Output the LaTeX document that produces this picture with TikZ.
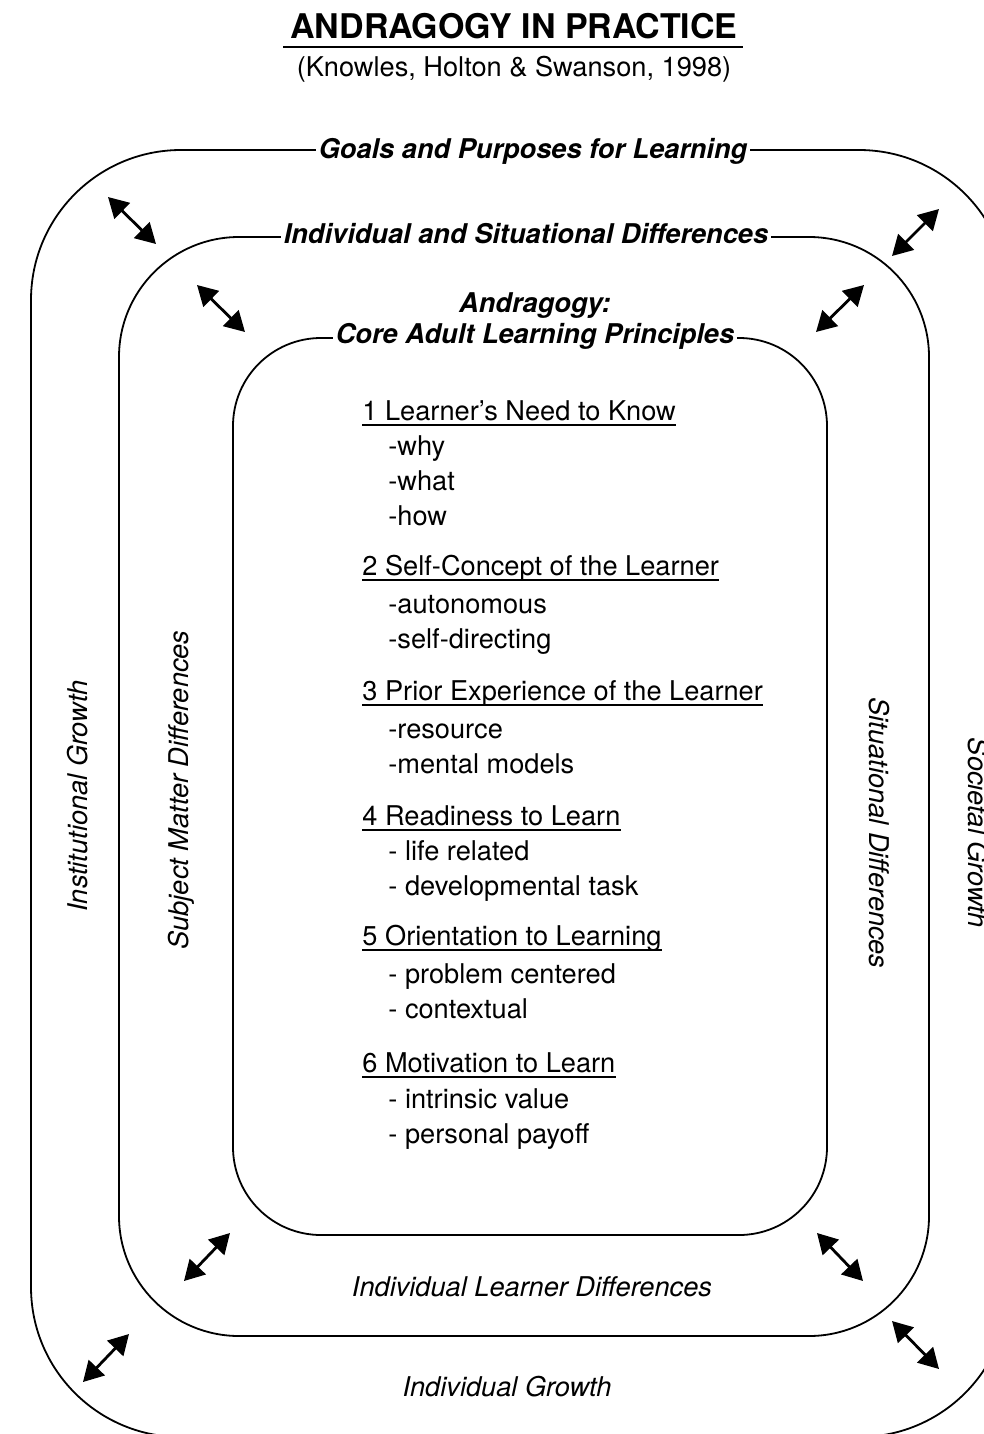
\documentclass[tikz,border=0pt]{standalone}
\usepackage{fontspec}
\setmainfont{TeX Gyre Heros}
\usetikzlibrary{arrows.meta}

\newcommand{\bodysize}{\fontsize{13.6pt}{16pt}\selectfont}

\tikzset{
  band/.style={draw, line width=0.9pt, rounded corners=#1, inner sep=0pt},
  bandlabel/.style={font=\bodysize\bfseries\itshape, fill=white, inner xsep=1.5pt, inner ysep=0pt, anchor=base},
  sidelabel/.style={font=\bodysize\itshape, inner sep=0pt},
  head/.style={font=\bodysize, anchor=base west, inner sep=0pt},
  item/.style={font=\bodysize, anchor=base west, inner sep=0pt},
  twoway/.style={{Triangle[length=10pt,width=11pt]}-{Triangle[length=10pt,width=11pt]}, line width=1.4pt},
}

\begin{document}
\begin{tikzpicture}[x=0.5pt, y=0.5pt]
  \useasboundingbox (0,0) rectangle (984,-1434);
  \clip (0,0) rectangle (984,-1434);

  % title
  \node[font=\fontsize{17pt}{20pt}\selectfont\bfseries, anchor=base, inner sep=0pt] (title) at (514,-39) {ANDRAGOGY IN PRACTICE};
  \node[font=\bodysize, anchor=base, inner sep=0pt] (cite) at (514,-77) {(Knowles, Holton \& Swanson, 1998)};
  \draw[line width=1.3pt] ([xshift=-3.5pt,yshift=-4pt]title.base west) -- ([xshift=2.5pt,yshift=-4pt]title.base east);

  % the three bands
  \node[band=75pt, minimum width=489pt, minimum height=643.5pt] (outer) at (520,-793.5) {};
  \node[band=60pt, minimum width=405pt, minimum height=549.5pt] (middle) at (524,-786.5) {};
  \node[band=44pt, minimum width=297pt, minimum height=448.5pt] (inner) at (530,-786.5) {};

  \node[bandlabel] (goals) at (533,-158) {Goals and Purposes for Learning};
  \node[bandlabel] (isd) at (526,-243) {Individual and Situational Differences};
  \node[bandlabel] (core) at (535,-343) {Core Adult Learning Principles};
  \node[bandlabel, fill=none] (andr) at ([yshift=15.5pt]core.base) {Andragogy:};

  \node[sidelabel, rotate=90] (inst) at (78,-796) {Institutional Growth};
  \node[sidelabel, rotate=90] (subj) at (181,-790) {Subject Matter Differences};
  \node[sidelabel, rotate=-90] (sitd) at (879,-833) {Situational Differences};
  \node[sidelabel, rotate=-90] (soc) at (978,-833) {Societal Growth};
  \node[sidelabel] (ild) at (532,-1287) {Individual Learner Differences};
  \node[sidelabel] (ig) at (507,-1387) {Individual Growth};

  % principles
  \node[head] (h1) at (362,-420) {1 Learner's Need to Know};
  \path (h1.base west) ++(13pt,-17.5pt) node[item] (why) {-why}
    ++(0,-17.5pt) node[item] (what) {-what}
    ++(0,-17.5pt) node[item] (how) {-how};
  \node[head] (h2) at (362,-575) {2 Self-Concept of the Learner};
  \path (h2.base west) ++(13pt,-19pt) node[item] (auton) {-autonomous}
    ++(0,-17.5pt) node[item] (selfdir) {-self-directing};
  \node[head] (h3) at (362,-700) {3 Prior Experience of the Learner};
  \path (h3.base west) ++(13pt,-19pt) node[item] (resource) {-resource}
    ++(0,-17.5pt) node[item] (mental) {-mental models};
  \node[head] (h4) at (362,-825) {4 Readiness to Learn};
  \path (h4.base west) ++(13pt,-17.5pt) node[item] (life) {- life related}
    ++(0,-17.5pt) node[item] (devtask) {- developmental task};
  \node[head] (h5) at (362,-945) {5 Orientation to Learning};
  \path (h5.base west) ++(13pt,-19pt) node[item] (problem) {- problem centered}
    ++(0,-17.5pt) node[item] (context) {- contextual};
  \node[head] (h6) at (362,-1072) {6 Motivation to Learn};
  \path (h6.base west) ++(13pt,-18pt) node[item] (intrinsic) {- intrinsic value}
    ++(0,-17.5pt) node[item] (payoff) {- personal payoff};

  \foreach \h in {h1,h2,h3,h4,h5,h6}
    \draw[line width=0.7pt] ([yshift=-2.5pt]\h.base west) -- ([yshift=-2.5pt]\h.base east);

  % arrows between the bands
  \foreach \n/\xa/\ya/\xb/\yb in {otl/108/-197/156/-244, mtl/197/-285/245/-332,
      otr/939/-209/892/-256, mtr/864/-285/816/-332,
      mbl/230/-1233/184/-1281, obl/129/-1334/83/-1382,
      mbr/817/-1233/863/-1281, obr/892/-1321/939/-1369}{
    \coordinate (\n-a) at (\xa,\ya);
    \coordinate (\n-b) at (\xb,\yb);
    \draw[twoway] (\n-a) -- (\n-b);
  }
\end{tikzpicture}
\end{document}
